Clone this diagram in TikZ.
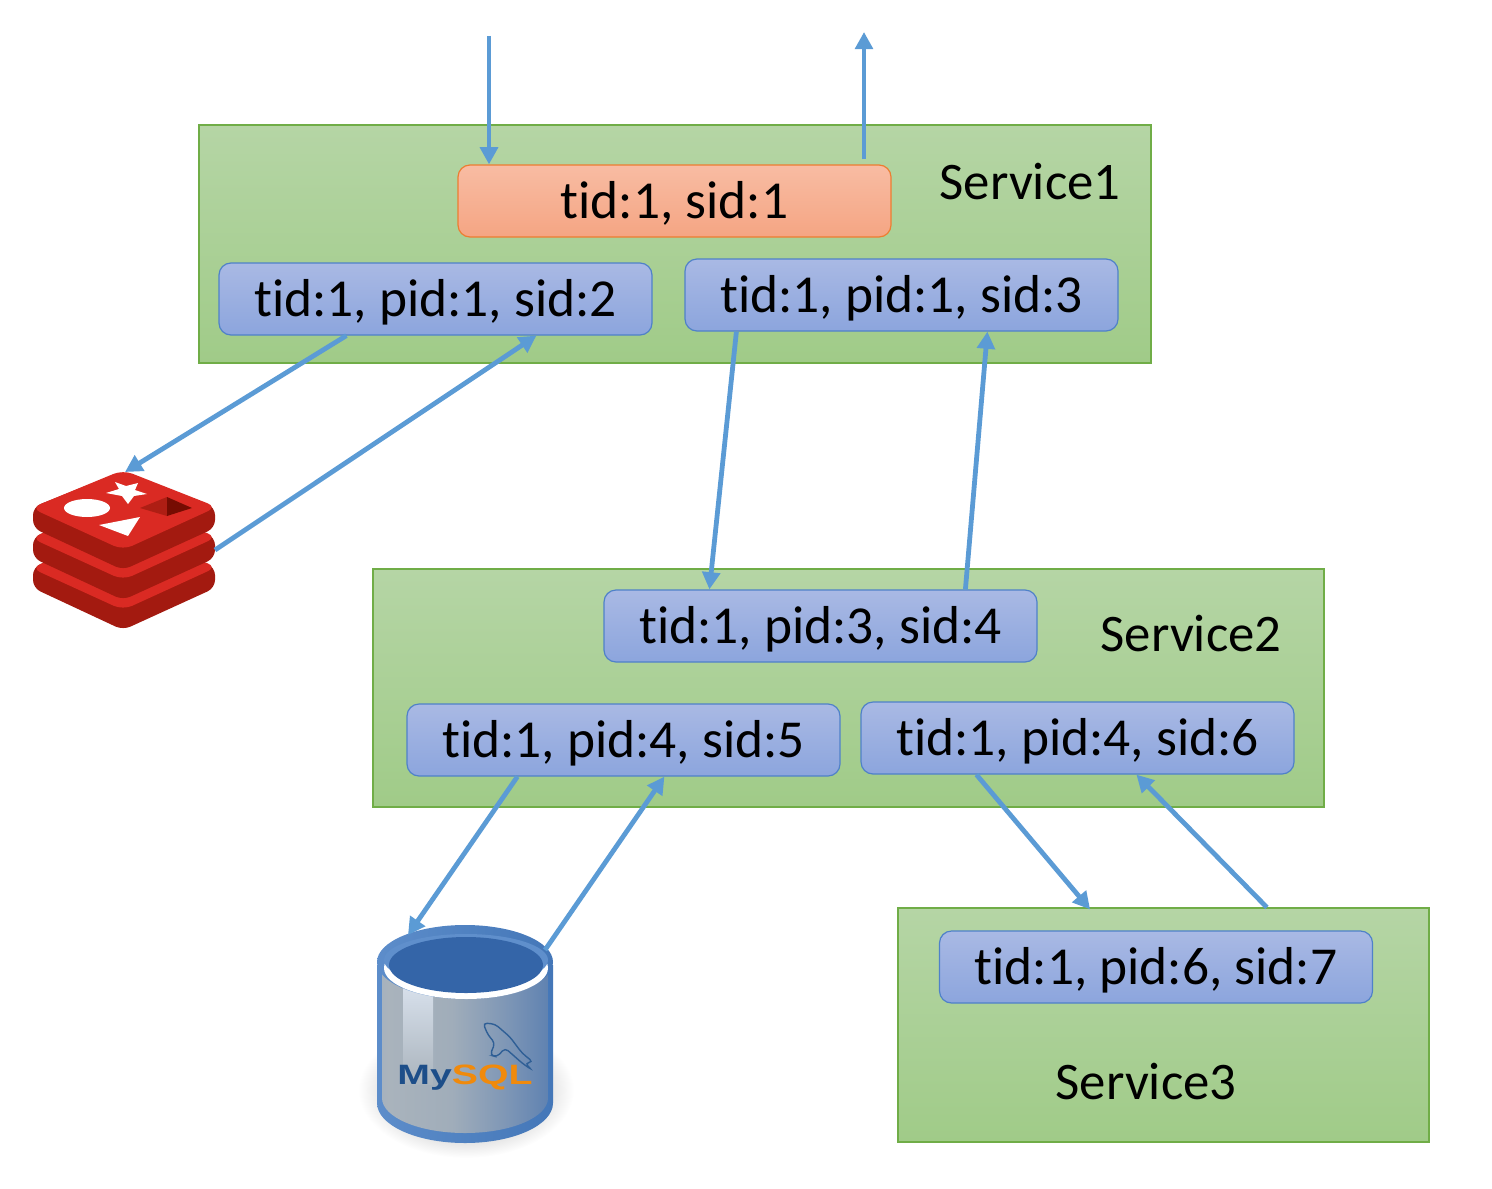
\documentclass[tikz,border=0pt]{standalone}
\usepackage{fontspec}
\setmainfont{Carlito}[Ligatures=NoCommon]
\newfontfamily\logofont{Liberation Sans}
\usetikzlibrary{arrows.meta}
\definecolor{flow}{HTML}{5B9BD5}
\definecolor{redtop}{HTML}{DA2A23}
\definecolor{redside}{HTML}{A31A10}
\definecolor{dbA}{HTML}{5C88C2}
\definecolor{dbB}{HTML}{8FA8C8}
\definecolor{dbC}{HTML}{A9B3BC}
\definecolor{dbD}{HTML}{A0ADBA}
\definecolor{dbE}{HTML}{7F97B6}
\definecolor{dbF}{HTML}{416EAC}
\definecolor{rimA}{HTML}{4A79BA}
\definecolor{rimB}{HTML}{5F8FCC}
\definecolor{rimC}{HTML}{4477B8}
\definecolor{rimD}{HTML}{2B5596}
\definecolor{dbwell}{HTML}{3465A8}
\definecolor{dolphin}{HTML}{2F5F96}
\definecolor{logoblue}{HTML}{1D4E89}
\definecolor{logoorange}{HTML}{F08A0C}
\definecolor{green1}{HTML}{B5D5A5}
\definecolor{green2}{HTML}{A0CB88}
\definecolor{greenedge}{HTML}{70AD47}
\definecolor{blue1}{HTML}{A9B9E4}
\definecolor{blue2}{HTML}{8CA5DD}
\definecolor{blueedge}{HTML}{4F81C9}
\definecolor{orange1}{HTML}{F8BCA3}
\definecolor{orange2}{HTML}{F5A583}
\definecolor{orangeedge}{HTML}{ED7D31}
\definecolor{squareA}{HTML}{AE1E14}
\definecolor{squareB}{HTML}{760C02}
\pgfdeclarehorizontalshading{dbgray}{100bp}{
 color(0bp)=(dbA); color(12bp)=(dbB); color(27bp)=(dbC); color(46bp)=(dbD);
 color(62bp)=(dbE); color(88bp)=(dbF); color(100bp)=(dbF)}
\pgfdeclarehorizontalshading{dbrim}{100bp}{
 color(0bp)=(rimA); color(20bp)=(rimB); color(75bp)=(rimC); color(100bp)=(rimD)}
\tikzset{
  service/.style={draw=greenedge, line width=0.6pt, rectangle,
    top color=green1, bottom color=green2, inner sep=0pt},
  task/.style={rectangle, rounded corners=6pt, line width=0.6pt, minimum width=216.5pt,
    minimum height=36pt, inner sep=0pt, text height=17.6pt, text depth=0pt, font=\fontsize{26.7}{30}\selectfont},
  bluetask/.style={task, draw=blueedge, top color=blue1, bottom color=blue2},
  orangetask/.style={task, draw=orangeedge, top color=orange1, bottom color=orange2},
  svclabel/.style={font=\fontsize{26.4}{30}\selectfont, inner sep=0pt},
  flowline/.style={draw=flow, line width=2.4pt, -{Triangle[width=8.8pt,length=8.6pt]}}
}
\newcommand{\redislayer}[1]{%
  \begin{scope}[yshift=-#1*0.5pt]
    \fill[redside, rounded corners=4pt] (33,507) -- (33,528) -- (123,570) -- (215,528) -- (215,507) -- (123,471) -- cycle;
    \fill[redtop, rounded corners=5pt] (31,508) -- (123,470) -- (217,507) -- (123,550) -- cycle;
  \end{scope}}
\begin{document}
\begin{tikzpicture}[x=0.5pt,y=-0.5pt]
\useasboundingbox (0,0) rectangle (1492,1188);
% services
\node[service, minimum width=476pt, minimum height=119pt] (svc1) at (675,244) {};
\node[service, minimum width=475.5pt, minimum height=119pt] (svc2) at (848.5,688) {};
\node[service, minimum width=265.5pt, minimum height=117pt] (svc3) at (1163.5,1025) {};
\node[svclabel] (lab1) at (1030,182) {Service1};
\node[svclabel] (lab2) at (1191,634) {Service2};
\node[svclabel] (lab3) at (1146,1082) {Service3};
% tasks
\node[orangetask] (s1) at (674.5,201) {tid:1, sid:1};
\node[bluetask] (s2) at (435.5,299) {tid:1, pid:1, sid:2};
\node[bluetask] (s3) at (901.5,295) {tid:1, pid:1, sid:3};
\node[bluetask] (s4) at (820.5,626) {tid:1, pid:3, sid:4};
\node[bluetask] (s5) at (623.5,740) {tid:1, pid:4, sid:5};
\node[bluetask] (s6) at (1077.5,738) {tid:1, pid:4, sid:6};
\node[bluetask] (s7) at (1156,967) {tid:1, pid:6, sid:7};
% redis logo
\redislayer{60}
\redislayer{30}
\redislayer{0}
\fill[white] (87,508) ellipse [x radius=23, y radius=9];
\fill[white] (115,482) -- (126,486) -- (138,483) -- (135,490) -- (147,494) -- (134,496) -- (128,504) -- (122,496) -- (106,493) -- (119,489) -- cycle;
\fill[white] (99,525) -- (140,517) -- (128,536) -- cycle;
\fill[squareA] (140,508) -- (167,497) -- (167,516) -- cycle;
\fill[squareB] (167,497) -- (192,508) -- (167,516) -- cycle;
\coordinate (redisTop) at (125,472);
\coordinate (redisRight) at (215,550);
% mysql logo
\shade[inner color=black!45, outer color=white] (466,1090) ellipse [x radius=108, y radius=68];
\shade[shading=dbrim] (377,965) -- (377,1103) arc[start angle=180, end angle=0, x radius=88, y radius=40] -- (553,965) -- cycle;
\shade[shading=dbgray] (382,965) -- (382,1098) arc[start angle=180, end angle=0, x radius=83, y radius=35] -- (548,965) -- cycle;
\shade[top color=dbB!35!white, bottom color=dbC] (403,985) -- (433,995) -- (433,1085) -- (403,1085) -- cycle;
\shade[shading=dbrim] (465,962) ellipse [x radius=88, y radius=37];
\fill[white] (466,968) ellipse [x radius=82, y radius=31];
\fill[rimB] (466,960) ellipse [x radius=82, y radius=26];
\fill[dbwell] (466,965) ellipse [x radius=77, y radius=28];
\draw[dolphin, line width=0.7pt, rounded corners=2pt]
  (483,1023) -- (495,1024) -- (510,1037) -- (522,1053) -- (533,1062) -- (525,1063) -- (532,1070) -- (522,1063) -- (513,1055) -- (505,1048) -- (497,1057) -- (490,1055) -- (495,1043) -- (488,1035) -- cycle;
\node[inner sep=0pt, xscale=1.4, font=\logofont\bfseries\fontsize{14}{16}\selectfont] (mysql) at (465,1078)
  {\textcolor{logoblue}{My}\textcolor{logoorange}{SQL}};
\coordinate (dbTop) at (408,935);
\coordinate (dbRight) at (545,950);
% external ends
\coordinate (inEnd) at (489,36);
\coordinate (outEnd) at (864,32);
% connectors
\draw[flowline] (inEnd) -- (inEnd |- s1.north);
\draw[flowline] ([yshift=2.5pt]outEnd |- s1.north) -- (outEnd);
\draw[flowline] ([xshift=64pt]s2.south west) -- (redisTop);
\draw[flowline] (redisRight) -- ([xshift=159pt]s2.south west);
\draw[flowline] ([xshift=26pt]s3.south west) -- ([xshift=53pt]s4.north west);
\draw[flowline] ([xshift=181pt]s4.north west) -- ([xshift=151.5pt]s3.south west);
\draw[flowline] ([xshift=55.5pt]s5.south west) -- (dbTop);
\draw[flowline] (dbRight) -- ([xshift=129pt]s5.south west);
\draw[flowline] ([xshift=58pt]s6.south west) -- ([yshift=-1pt,xshift=-36.7pt]svc3.north);
\draw[flowline] ([xshift=51.7pt]svc3.north) -- ([xshift=138pt]s6.south west);
\end{tikzpicture}
\end{document}
